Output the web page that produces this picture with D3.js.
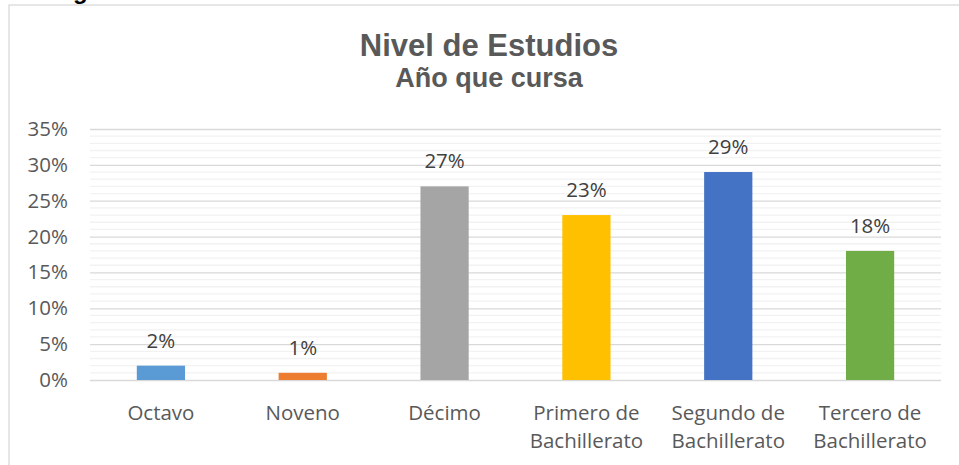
<!DOCTYPE html>
<html>
<head>
<meta charset="utf-8">
<script src="https://cdn.jsdelivr.net/npm/d3@7"></script>
<style>
	body { margin: 0; background: #fff; }
	svg { display: block; }
</style>
</head>
<body>
<svg id="chart"></svg>
<script>
let w = 959;
let h = 465;

let categories = [["Octavo"], ["Noveno"], ["Décimo"], ["Primero de", "Bachillerato"],
	["Segundo de", "Bachillerato"], ["Tercero de", "Bachillerato"]];
let values = [0.02, 0.01, 0.27, 0.23, 0.29, 0.18];
let colors = ["#5B9BD5", "#ED7D31", "#A5A5A5", "#FFC000", "#4472C4", "#70AD47"];
let yTicks = [0, 0.05, 0.10, 0.15, 0.20, 0.25, 0.30, 0.35];
let title = "Nivel de Estudios";
let subtitle = "Año que cursa";

let margin = {left: 90, right: 18, top: 129, bottom: 85};
let labelFont = "Open Sans, Noto Sans, sans-serif";
let labelSize = "20.5px";

let svg = d3.select("#chart")
	.attr("width", w)
	.attr("height", h);

// piece of heading text cut off above the chart
svg.append("text")
	.attr("x", 73).attr("y", -1)
	.style("font-family", "Liberation Sans, Arial, sans-serif")
	.style("font-weight", "bold")
	.style("font-size", "24px")
	.style("fill", "#000")
	.text("g");

// chart frame
svg.append("rect")
	.attr("x", 9).attr("y", 5)
	.attr("width", 990).attr("height", 500)
	.attr("fill", "none")
	.attr("stroke", "#d9d9d9")
	.attr("stroke-width", 1.3);

let x = d3.scaleBand()
	.domain(d3.range(categories.length))
	.range([margin.left, w - margin.right])
	.paddingInner(0.66)
	.paddingOuter(0.33);

let y = d3.scaleLinear()
	.domain([0, 0.35])
	.range([h - margin.bottom, margin.top]);

// minor gridlines at 1%
let minor = d3.range(1, 35).filter(d => d % 5 != 0).map(d => d / 100);
svg.append("g")
	.selectAll("line")
	.data(minor)
	.join("line")
		.attr("x1", margin.left).attr("x2", w - margin.right)
		.attr("y1", d => y(d)).attr("y2", d => y(d))
		.attr("stroke", "#f2f2f2")
		.attr("stroke-width", 1.3);

// y axis with major gridlines
let yAxis = svg.append("g")
	.attr("transform", `translate(${margin.left},0)`)
	.call(d3.axisLeft(y)
		.tickValues(yTicks)
		.tickFormat(d3.format(".0%"))
		.tickSize(-(w - margin.left - margin.right))
		.tickPadding(22));
yAxis.select(".domain").remove();
yAxis.selectAll(".tick line")
	.attr("stroke", "#d9d9d9")
	.attr("stroke-width", 1.3);
yAxis.selectAll(".tick text")
	.style("font-family", labelFont)
	.style("font-size", labelSize)
	.style("fill", "#595959");

// bars
svg.append("g")
	.selectAll("rect")
	.data(values)
	.join("rect")
		.attr("x", (d, i) => x(i))
		.attr("y", d => y(d))
		.attr("width", x.bandwidth())
		.attr("height", d => y(0) - y(d))
		.attr("fill", (d, i) => colors[i]);

// data labels
svg.append("g")
	.selectAll("text")
	.data(values)
	.join("text")
		.attr("x", (d, i) => x(i) + x.bandwidth() / 2)
		.attr("y", d => y(d) - 18)
		.attr("text-anchor", "middle")
		.style("font-family", labelFont)
		.style("font-size", labelSize)
		.style("fill", "#404040")
		.text(d => d3.format(".0%")(d));

// category labels
svg.append("g")
	.selectAll("text")
	.data(categories)
	.join("text")
		.attr("x", (d, i) => x(i) + x.bandwidth() / 2)
		.attr("y", 420)
		.attr("text-anchor", "middle")
		.style("font-family", labelFont)
		.style("font-size", labelSize)
		.style("fill", "#595959")
		.selectAll("tspan")
		.data(d => d)
		.join("tspan")
			.attr("x", function() { return this.parentNode.getAttribute("x"); })
			.attr("dy", (d, i) => i == 0 ? 0 : 28)
			.text(d => d);

// titles
svg.append("text")
	.attr("x", 489).attr("y", 56)
	.attr("text-anchor", "middle")
	.style("font-family", "Liberation Sans, Arial, sans-serif")
	.style("font-weight", "bold")
	.style("font-size", "31px")
	.style("fill", "#595959")
	.text(title);
svg.append("text")
	.attr("x", 489).attr("y", 87)
	.attr("text-anchor", "middle")
	.style("font-family", "Liberation Sans, Arial, sans-serif")
	.style("font-weight", "bold")
	.style("font-size", "27px")
	.style("fill", "#595959")
	.text(subtitle);
</script>
</body>
</html>
